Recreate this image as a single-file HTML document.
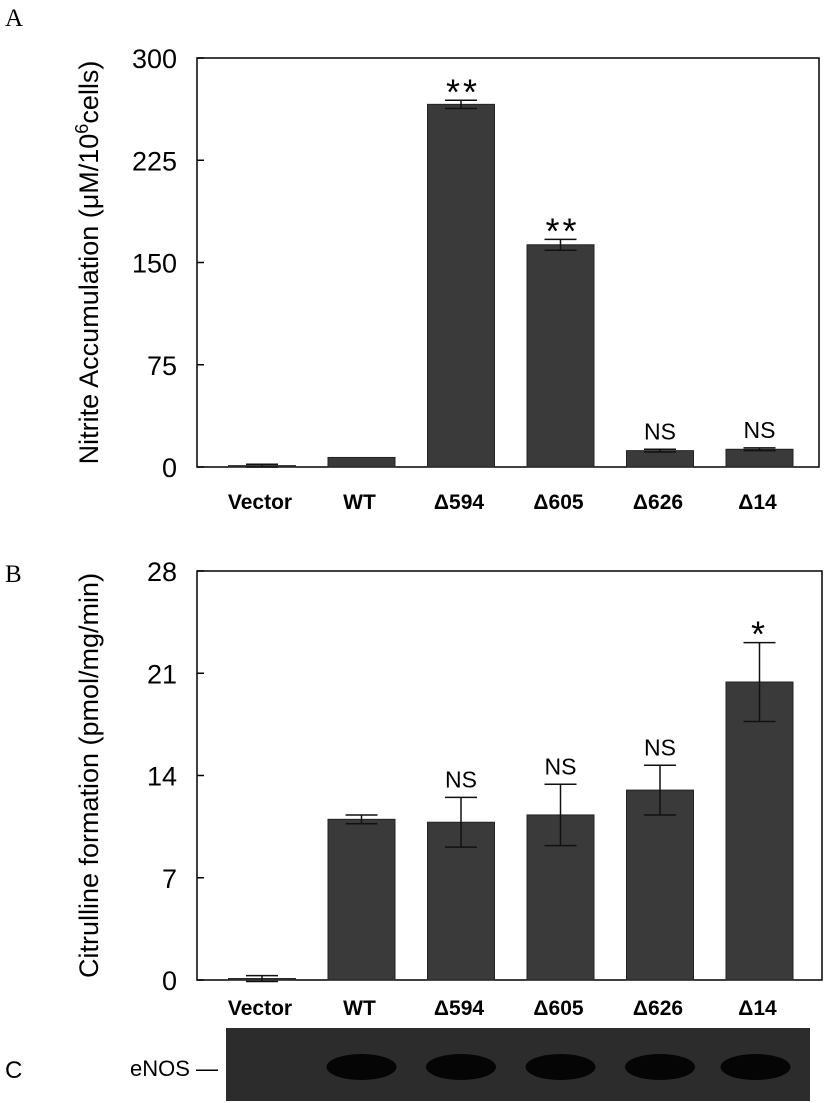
<!DOCTYPE html>
<html><head><meta charset="utf-8"><style>
body{margin:0;background:#fff;}
svg{display:block;font-family:"Liberation Sans",Arial,sans-serif;}
</style></head><body>
<svg id="fig" width="825" height="1103" viewBox="0 0 825 1103" xmlns="http://www.w3.org/2000/svg">
<text x="5" y="26" font-family="Liberation Serif,serif" font-size="25">A</text>
<text x="5" y="582" font-family="Liberation Serif,serif" font-size="25">B</text>
<text x="5" y="1078" font-size="24">C</text>
<g id="chartA"></g>
<g id="chartB"></g>
<g id="blot"></g>
</svg>
<script>
const categories=["Vector","WT","\u0394594","\u0394605","\u0394626","\u039414"];
const nitriteValues=[1,7,266,163,12,13];
const nitriteErrors=[1,0,3,4,1,1];
const nitriteMarks=["","","**","**","NS","NS"];
const nitriteTicks=[0,75,150,225,300];
const citrullineValues=[0.1,11.0,10.8,11.3,13.0,20.4];
const citrullineErrors=[0.2,0.3,1.7,2.1,1.7,2.7];
const citrullineMarks=["","","NS","NS","NS","*"];
const citrullineTicks=[0,7,14,21,28];
const blotBands=[0,1,1,1,1,1];

const NS="http://www.w3.org/2000/svg";
function mk(parent,tag,attrs,text){const e=document.createElementNS(NS,tag);for(const k in attrs)e.setAttribute(k,attrs[k]);if(text!==undefined)e.textContent=text;parent.appendChild(e);return e;}

function drawChart(g,cfg){
  const {left,right,top,bottom,max,values,errors,marks,ticks,title,titleX,labelOff}=cfg;
  const y=v=>bottom-(v/max)*(bottom-top);
  const xc=i=>262+i*99.5;
  const bw=67;
  const frame=mk(g,'rect',{x:left,y:top,width:right-left,height:bottom-top,fill:'none',stroke:'#000','stroke-width':1.5});
  
  
  ticks.forEach(t=>{
    const tl=mk(g,'line',{x1:left,x2:left+7,y1:y(t),y2:y(t),stroke:'#000','stroke-width':1.5});
    
    
    const tx=mk(g,'text',{x:left-20,y:y(t)+10,'text-anchor':'end','font-size':27},String(t));
    
    
  });
  values.forEach((v,i)=>{
    const b=mk(g,'rect',{x:xc(i)-bw/2,y:y(v),width:bw,height:bottom-y(v),fill:'#3a3a3a',stroke:'#222','stroke-width':1});
    
    
    const e=errors[i];
    if(e>0){
      const eg=mk(g,'g',{stroke:'#111','stroke-width':1.5});
      
      
      mk(eg,'line',{x1:xc(i),x2:xc(i),y1:y(v+e),y2:y(v-e)});
      mk(eg,'line',{x1:xc(i)-16,x2:xc(i)+16,y1:y(v+e),y2:y(v+e)});
      mk(eg,'line',{x1:xc(i)-16,x2:xc(i)+16,y1:y(v-e),y2:y(v-e)});
    }
    if(marks[i]){
      const star=marks[i].indexOf('*')>=0;
      const m=mk(g,'text',{x:xc(i)+(star&&marks[i].length>1?2:0),y:y(v+e)+(star?4:-10),'text-anchor':'middle','font-size':star?36:23,'letter-spacing':star?'3':'0'},marks[i]);
      
      
    }
    const cl=mk(g,'text',{x:xc(i)-2,y:bottom+labelOff,'text-anchor':'middle','font-size':21,'font-weight':'bold'},categories[i]);
    
    
  });
  const cy=(top+bottom)/2;
  const tt=mk(g,'text',{x:0,y:0,'text-anchor':'middle','font-size':27,transform:`translate(${titleX},${cy}) rotate(-90)`});
  tt.innerHTML=title;
  
  
}
drawChart(document.getElementById('chartA'),{left:197,right:819,top:58,bottom:467,max:300,values:nitriteValues,errors:nitriteErrors,marks:nitriteMarks,ticks:nitriteTicks,titleX:98,labelOff:42,
 title:'Nitrite Accumulation (\u03bcM/10<tspan font-size="18" dy="-10">6</tspan><tspan dy="10">cells)</tspan>'});
drawChart(document.getElementById('chartB'),{left:197,right:822,top:571,bottom:980,max:28,values:citrullineValues,errors:citrullineErrors,marks:citrullineMarks,ticks:citrullineTicks,titleX:98,labelOff:35,
 title:'Citrulline formation (pmol/mg/min)'});

const blot=document.getElementById('blot');
const bg=mk(blot,'rect',{x:226,y:1028,width:584,height:73,fill:'#2c2c2c'});


blotBands.forEach((b,i)=>{
  if(!b)return;
  const el=mk(blot,'ellipse',{cx:262+i*99.5-(i>4?4:0),cy:1067,rx:35,ry:13,fill:'#050505'});
  
  
});
const lab=mk(blot,'text',{x:130,y:1076,'font-size':22},'eNOS \u2014');


</script>
</body></html>
